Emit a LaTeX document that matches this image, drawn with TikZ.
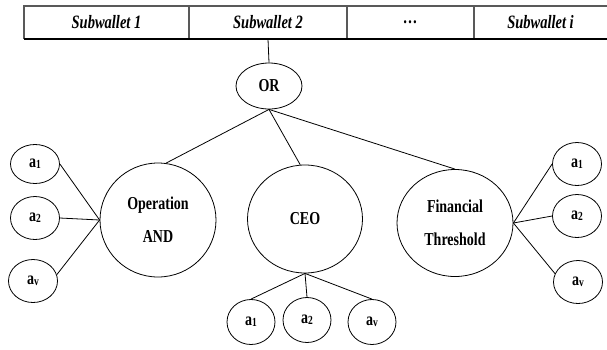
\documentclass[tikz,border=0pt]{standalone}
\usepackage{fontspec}
\setmainfont{Liberation Serif}
\usepackage{graphicx}
\usetikzlibrary{shapes.geometric}
\newcommand{\vs}[1]{\scalebox{1}[1.3]{#1}}
\newcommand{\leafa}[1]{\vs{a\raisebox{-0.8pt}{\fontsize{9.5}{10}\selectfont #1}}}
\begin{document}
\begin{tikzpicture}[x=1pt,y=-1pt,
  ell/.style={draw, ellipse, line width=0.8pt, inner sep=0pt, align=center,
    font=\bfseries\fontsize{14}{33}\selectfont},
  leaf/.style={ell, minimum width=49pt, minimum height=43pt,
    font=\bfseries\fontsize{14}{16}\selectfont},
  cell/.style={rectangle, inner sep=0pt, minimum height=33pt,
    font=\bfseries\itshape\fontsize{14.5}{16}\selectfont},
  edge/.style={line width=0.8pt},
  tblgray/.style={line width=1.1pt, draw=black!65},
  tblblack/.style={line width=1.1pt, draw=black}]
\useasboundingbox (0,0) rectangle (607,349);
% table
\node[cell, minimum width=165pt] (s1) at (106.5,22.5) {\vs{Subwallet 1}};
\node[cell, minimum width=158pt] (s2) at (268,22.5) {\vs{Subwallet 2}};
\node[cell, minimum width=127pt] (s3) at (410.5,22.5) {\vs{\dots}};
\node[cell, minimum width=133pt] (s4) at (540.5,22.5) {\vs{Subwallet i}};
\draw[tblgray] (607,6) -- (24,6) -- (24,39);
\draw[tblgray] (189,6) -- (189,39);
\draw[tblgray] (347,6) -- (347,39);
\draw[tblgray] (474,6) -- (474,39);
\draw[tblblack] (23.5,39) -- (607,39);
% OR
\node[ell, minimum width=66pt, minimum height=46pt] (or) at (269,86) {\vs{OR}};
% main nodes
\node[ell, minimum width=116pt, minimum height=114pt] (op) at (158,220) {\vs{Operation}\\\vs{AND}};
\node[ell, minimum width=115pt, minimum height=108pt] (ceo) at (305,219) {\vs{CEO}};
\node[ell, minimum width=116pt, minimum height=107pt] (fin) at (455,223) {\vs{Financial}\\\vs{Threshold}};
% left leaves
\node[leaf, minimum height=39pt] (la1) at (35,164) {\leafa{1}};
\node[leaf] (la2) at (35,218) {\leafa{2}};
\node[leaf] (lav) at (33,281) {\leafa{v}};
% right leaves
\node[leaf] (ra1) at (577,164) {\leafa{1}};
\node[leaf] (ra2) at (577,216) {\leafa{2}};
\node[leaf] (rav) at (578,282) {\leafa{v}};
% bottom leaves
\node[leaf, minimum width=48pt, minimum height=45pt] (ba1) at (251,322) {\leafa{1}};
\node[leaf, minimum width=48pt, minimum height=45pt] (ba2) at (307,320) {\leafa{2}};
\node[leaf, minimum width=48pt, minimum height=45pt] (bav) at (372,322) {\leafa{v}};
% connectors
\draw[edge] (s2.south) -- (or.north);
\draw[edge] (or.south) -- (op.82);
\draw[edge] (or.south) -- (ceo.95);
\draw[edge] (or.south) -- (fin.north);
\draw[edge] (la1.east) -- (op.west);
\draw[edge] (la2.east) -- (op.west);
\draw[edge] (lav.15) -- (op.west);
\draw[edge] (fin.east) -- (ra1.west);
\draw[edge] (fin.east) -- (ra2.west);
\draw[edge] (fin.east) -- (rav.160);
\draw[edge] (ceo.south) -- (ba1.north);
\draw[edge] (ceo.south) -- (ba2.north);
\draw[edge] (ceo.south) -- (bav.north);
\end{tikzpicture}
\end{document}
